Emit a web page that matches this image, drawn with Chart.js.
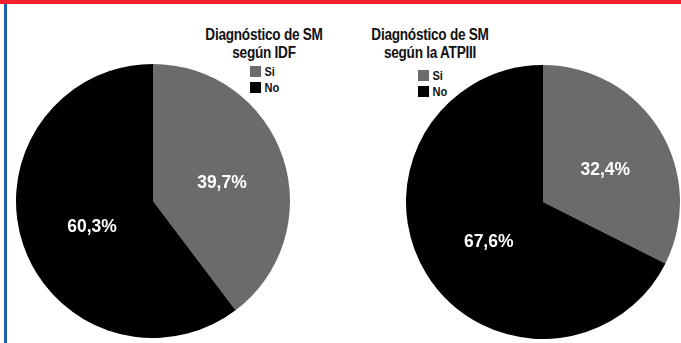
<!DOCTYPE html>
<html>
<head>
<meta charset="utf-8">
<script src="https://cdn.jsdelivr.net/npm/chart.js@4.4.0/dist/chart.umd.min.js"></script>
<style>
  html, body { margin: 0; padding: 0; background: #fff; }
  body { width: 681px; height: 343px; position: relative; overflow: hidden; font-family: "Liberation Sans", Arial, sans-serif; }
  .topbar { position: absolute; left: 0; top: 0; width: 681px; height: 4px; background: #f2212d; }
  .sidebar { position: absolute; left: 4px; top: 4px; width: 3px; height: 339px; background: #1b63a8; }
  .pie { position: absolute; width: 274px; height: 274px; }
  .title { position: absolute; width: 200px; text-align: center; font-weight: bold; font-size: 16px; letter-spacing: -0.3px; line-height: 18px; color: #111; transform: scaleX(0.85); transform-origin: 50% 0; }
  .legend { position: absolute; font-weight: bold; font-size: 13px; color: #111; transform: scaleX(0.85); transform-origin: 0 0; }
  .legend div { height: 16px; line-height: 16px; }
  .legend span { display: inline-block; width: 13px; height: 11px; vertical-align: -1px; margin-right: 4px; }
</style>
</head>
<body>
<div class="topbar"></div>
<div class="sidebar"></div>

<div class="title" id="title1" style="left:164px; top:26px;"></div>
<div class="legend" id="legend1" style="left:250px; top:64px;"></div>
<div class="pie" style="left:16px; top:64px;"><canvas id="pie1"></canvas></div>

<div class="title" id="title2" style="left:330px; top:26px;"></div>
<div class="legend" id="legend2" style="left:418px; top:68px;"></div>
<div class="pie" style="left:406px; top:65px;"><canvas id="pie2"></canvas></div>

<script>
const labels = ['Si', 'No'];
const colors = ['#6b6b6b', '#000000'];

const titleIDF = ['Diagnóstico de SM', 'según IDF'];
const valuesIDF = [39.7, 60.3];

const titleATP = ['Diagnóstico de SM', 'según la ATPIII'];
const valuesATP = [32.4, 67.6];

// white percent labels in the middle of each slice
const sliceLabels = {
    id: 'sliceLabels',
    afterDatasetsDraw(chart) {
        const c = chart.ctx;
        const ds = chart.data.datasets[0];
        chart.getDatasetMeta(0).data.forEach((arc, i) => {
            const p = arc.getCenterPoint();
            c.save();
            c.translate(p.x + 4, p.y + 4);
            c.scale(0.92, 1);
            c.fillStyle = '#ffffff';
            c.font = 'bold 19px "Liberation Sans", Arial, sans-serif';
            c.textAlign = 'center';
            c.textBaseline = 'middle';
            c.fillText(ds.data[i].toFixed(1).replace('.', ',') + '%', 0, 0);
            c.restore();
        });
    }
};

function makePie(canvasId, titleId, legendId, title, values) {
    document.getElementById(titleId).innerHTML = title.join('<br>');
    document.getElementById(legendId).innerHTML = labels
        .map((l, i) => '<div><span style="background:' + colors[i] + '"></span>' + l + '</div>')
        .join('');

    return new Chart(document.getElementById(canvasId), {
        type: 'pie',
        data: {
            labels: labels,
            datasets: [{ data: values, backgroundColor: colors, borderWidth: 0 }]
        },
        options: {
            responsive: true,
            maintainAspectRatio: false,
            animation: false,
            layout: { padding: 0 },
            plugins: {
                legend: { display: false },
                tooltip: { enabled: false }
            }
        },
        plugins: [sliceLabels]
    });
}

makePie('pie1', 'title1', 'legend1', titleIDF, valuesIDF);
makePie('pie2', 'title2', 'legend2', titleATP, valuesATP);
</script>
</body>
</html>
